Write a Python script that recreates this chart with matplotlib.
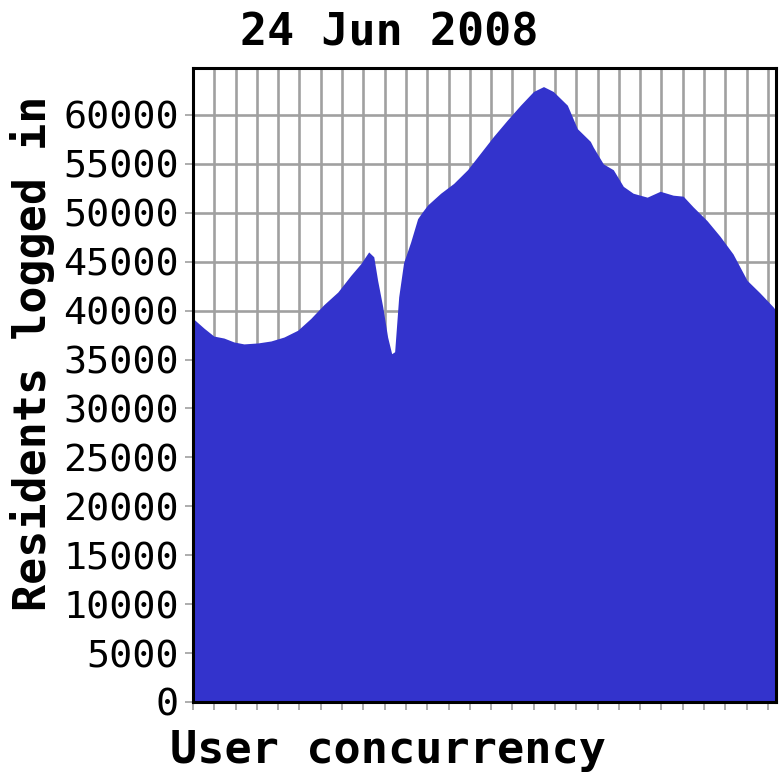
import numpy as np
import matplotlib
matplotlib.use('Agg')
import matplotlib.pyplot as plt

# curve, x in grid units (one vertical grid line per unit)
x_pos = [0.0, 0.52, 0.98, 1.45, 1.92, 2.39, 3.05, 3.66, 4.27, 4.92,
         5.53, 6.14, 6.80, 7.41, 7.88, 8.25, 8.49, 8.67, 8.91, 9.14,
         9.33, 9.47, 9.66, 9.89, 10.22, 10.55, 10.74, 11.02, 11.63, 12.24,
         12.89, 13.50, 14.11, 14.77, 15.38, 15.99, 16.46, 16.92, 17.58, 18.05,
         18.66, 18.80, 19.27, 19.74, 20.21, 20.67, 21.33, 21.94, 22.55, 23.02,
         23.49, 24.14, 24.75, 25.36, 26.02, 26.63, 27.24, 27.38]
residents = [39200, 38200, 37400, 37200, 36800, 36600, 36700, 36900, 37300, 38000,
             39200, 40600, 41900, 43600, 44800, 46000, 45500, 43100, 40400, 37300,
             35600, 35800, 41400, 44900, 47000, 49400, 50000, 50800, 52000, 53000,
             54400, 56100, 57800, 59500, 61000, 62400, 62900, 62400, 61000, 58600,
             57300, 56700, 55000, 54400, 52700, 52000, 51600, 52200, 51800, 51700,
             50600, 49200, 47600, 45800, 43100, 41800, 40400, 40000]

y_ticks = np.arange(0, 60001, 5000)
title = "24 Jun 2008"
y_label = "Residents logged in"
x_label = "User concurrency"

fig = plt.figure(figsize=(7.8, 7.8), dpi=100)
ax = fig.add_axes([193/780, 78/780, 583/780, 634/780])

ax.fill_between(x_pos, residents, 0, color='#3333cc', linewidth=0, zorder=3)

ax.set_xlim(0, 27.38)
ax.set_ylim(0, 64800)
ax.set_xticks(np.arange(0, 28, 1))
ax.set_yticks(y_ticks)
ax.set_yticklabels([str(v) for v in y_ticks], family='DejaVu Sans Mono', fontsize=27.6)
ax.set_xticklabels([])

ax.set_axisbelow(True)
ax.grid(True, color='#a0a0a0', linewidth=1.9)
ax.tick_params(axis='both', direction='out', length=6, width=1.2, color='#a0a0a0', pad=4)

for s in ax.spines.values():
    s.set_linewidth(2.2)
    s.set_color('black')
    s.set_zorder(5)

fig.text(240/780, 1 - 45/780, title, family='DejaVu Sans Mono', weight='bold',
         fontsize=32.4, ha='left', va='baseline')
fig.text(170/780, 1 - 763/780, x_label, family='DejaVu Sans Mono', weight='bold',
         fontsize=32.6, ha='left', va='baseline')
fig.text(33/780, 1 - 353/780, y_label, family='DejaVu Sans Mono', weight='bold',
         fontsize=32.4, rotation=90, ha='center', va='center')

fig.savefig('out.png', dpi=100)
